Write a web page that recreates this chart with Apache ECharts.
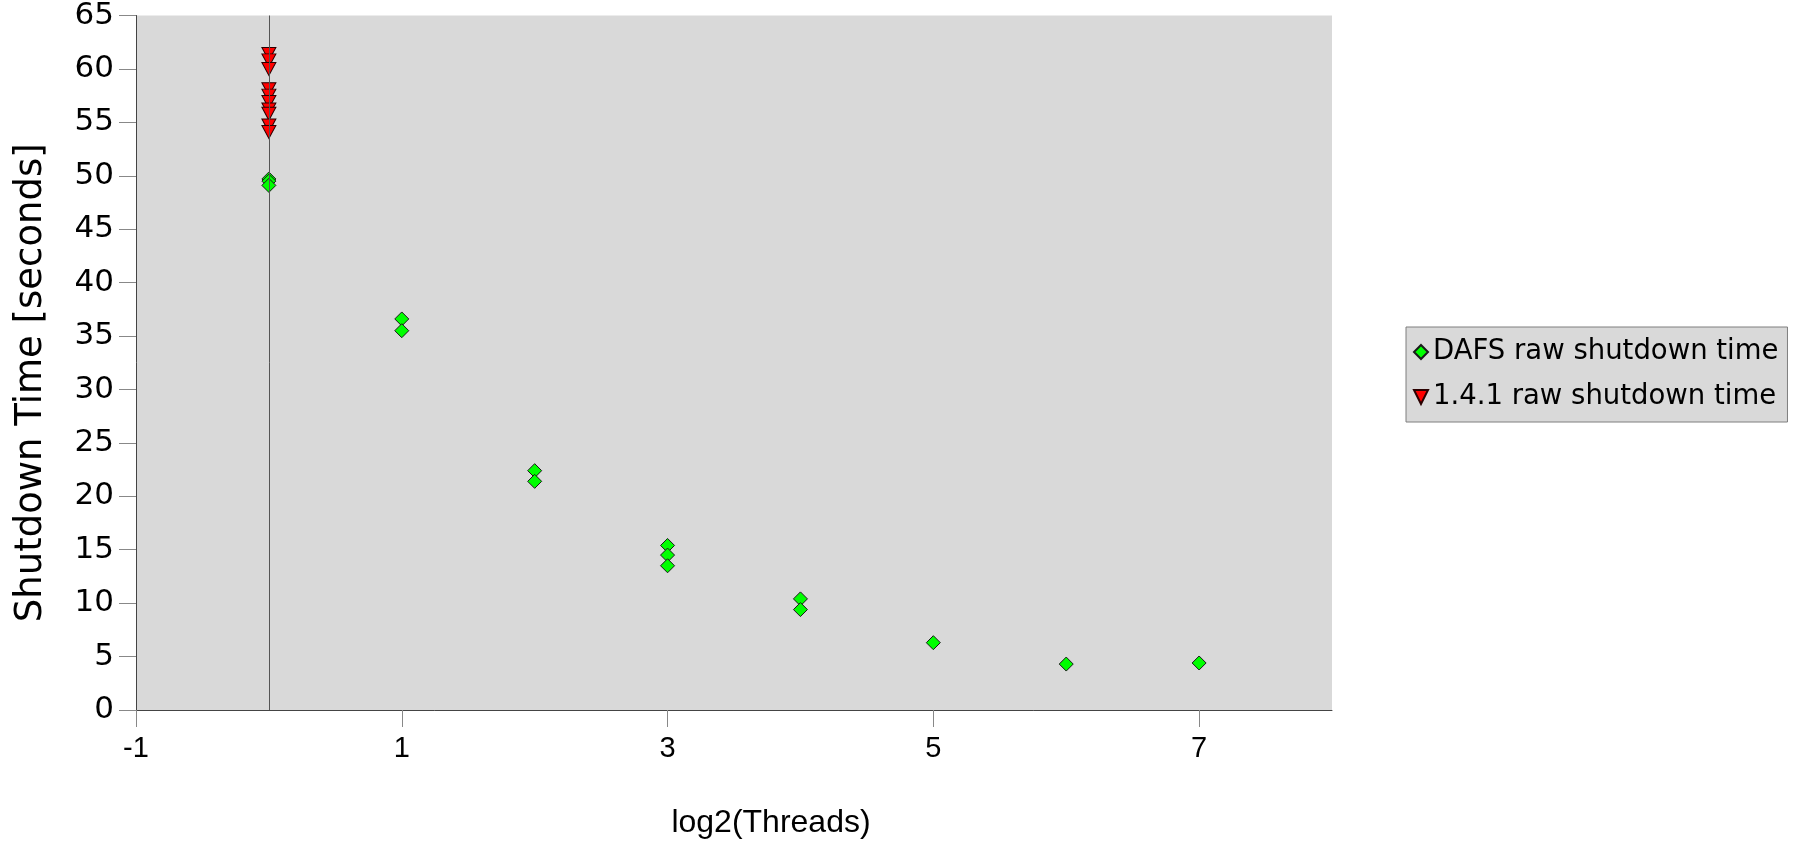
<!DOCTYPE html>
<html>
<head>
<meta charset="utf-8">
<script src="https://cdn.jsdelivr.net/npm/echarts@6/dist/echarts.min.js"></script>
<style>
  html, body { margin: 0; padding: 0; background: #fff; }
  #chart { width: 1794px; height: 848px; }
</style>
</head>
<body>
<div id="chart"></div>
<script>
// x = log2(threads), y = shutdown time in seconds
const dafsX = [0, 0, 0, 1, 1, 2, 2, 3, 3, 3, 4, 4, 5, 6, 7]
const dafsY = [49.7, 49.5, 49.1, 36.6, 35.5, 22.4, 21.4, 15.4, 14.5, 13.5, 10.4, 9.4, 6.3, 4.3, 4.4]

const v141X = [0, 0, 0, 0, 0, 0, 0, 0, 0, 0]
const v141Y = [61.4, 60.8, 60.0, 58.1, 57.5, 56.9, 56.2, 55.8, 54.7, 54.1]

const xTicks = [-1, 1, 3, 5, 7]
const seriesNames = ['DAFS raw shutdown time', '1.4.1 raw shutdown time']

const pairs = (xs, ys) => xs.map((x, i) => [x, ys[i]])

const chart = echarts.init(document.getElementById('chart'))

chart.setOption({
  animation: false,
  grid: {
    left: 136, right: 462, top: 15, bottom: 138,
    show: true, backgroundColor: '#d9d9d9', borderWidth: 0
  },
  legend: {
    orient: 'vertical',
    left: 1406, top: 327,
    padding: [11, 9, 11, 7],
    itemGap: 17,
    itemWidth: 14, itemHeight: 14,
    backgroundColor: '#d9d9d9',
    borderColor: '#7f7f7f', borderWidth: 1,
    textStyle: { fontFamily: 'DejaVu Sans', fontSize: 27.5, color: '#000' },
    data: seriesNames
  },
  xAxis: {
    type: 'value',
    min: -1, max: 8, interval: 2,
    name: 'log2(Threads)',
    nameLocation: 'middle',
    nameGap: 97,
    nameTextStyle: { fontFamily: 'Liberation Sans', fontSize: 32, color: '#000', padding: [0, 0, 0, 74] },
    axisLine: { onZero: false, lineStyle: { color: '#444', width: 1 } },
    axisTick: { show: true, inside: false, length: 17, lineStyle: { color: '#888' }, customValues: xTicks },
    axisLabel: { fontFamily: 'Liberation Sans', fontSize: 29, color: '#000', margin: 24, customValues: xTicks },
    splitLine: { show: false }
  },
  yAxis: {
    type: 'value',
    min: 0, max: 65, interval: 5,
    name: 'Shutdown Time [seconds]',
    nameLocation: 'middle',
    nameRotate: 90,
    nameGap: 86,
    nameTextStyle: { fontFamily: 'DejaVu Sans', fontSize: 37, color: '#000', padding: [0, 40, 0, 0] },
    axisLine: { show: true, onZero: false, lineStyle: { color: '#444', width: 1 } },
    axisTick: { show: true, inside: false, length: 17, lineStyle: { color: '#888' } },
    axisLabel: { fontFamily: 'DejaVu Sans', fontSize: 31, color: '#000', margin: 22 },
    splitLine: { show: false }
  },
  series: [
    {
      name: seriesNames[0],
      type: 'scatter',
      symbol: 'diamond',
      symbolSize: 14,
      itemStyle: { color: '#00ff00', borderColor: '#1a1a1a', borderWidth: 1, opacity: 1 },
      data: pairs(dafsX, dafsY),
      z: 3,
      markLine: {
        silent: true,
        symbol: 'none',
        label: { show: false },
        lineStyle: { color: '#555', width: 1, type: 'solid' },
        data: [{ xAxis: 0 }]
      }
    },
    {
      name: seriesNames[1],
      type: 'scatter',
      symbol: 'path://M0,0L2,0L1,2Z',
      symbolSize: [14, 13],
      itemStyle: { color: '#ff0000', borderColor: '#2a0000', borderWidth: 1, opacity: 1 },
      data: pairs(v141X, v141Y),
      z: 4
    }
  ]
})
</script>
</body>
</html>
